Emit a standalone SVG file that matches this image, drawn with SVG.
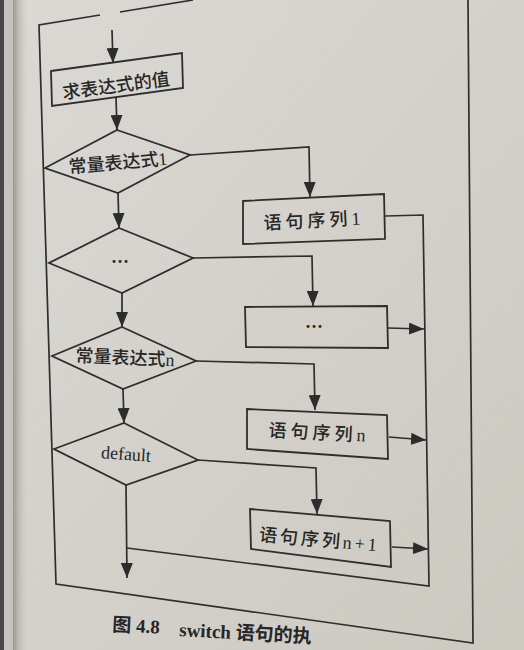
<svg xmlns="http://www.w3.org/2000/svg" width="524" height="650" viewBox="0 0 524 650">
<defs>
<linearGradient id="paper" x1="0" y1="0" x2="1" y2="1">
<stop offset="0" stop-color="#dbd9d4"/>
<stop offset="1" stop-color="#ccc9c1"/>
</linearGradient>
<linearGradient id="shadow" x1="0" y1="0" x2="1" y2="0">
<stop offset="0" stop-color="#9a9893"/>
<stop offset="1" stop-color="#d6d3cd" stop-opacity="0"/>
</linearGradient>
<marker id="ah" markerUnits="userSpaceOnUse" markerWidth="15" markerHeight="12" refX="15" refY="6" orient="auto">
<path d="M0,0 L15,6 L0,12 z" fill="#2c2c2c"/>
</marker>
<style>
.ln{fill:none;stroke:#2e2e2e;stroke-width:1.7;stroke-linejoin:miter}
.ar{fill:none;stroke:#2e2e2e;stroke-width:1.7;marker-end:url(#ah)}
.shp{fill:none;stroke:#2e2e2e;stroke-width:1.8}
.lbl{font-family:"Liberation Serif","Noto Sans CJK SC",serif;font-size:18px;font-weight:500;fill:#262626;text-anchor:middle}
.cap{font-family:"Liberation Serif","Noto Sans CJK SC",serif;font-size:19px;font-weight:bold;fill:#262626}
</style>
</defs>
<rect x="0" y="0" width="524" height="650" fill="url(#paper)"/>
<rect x="0" y="0" width="4" height="650" fill="#474747"/>
<rect x="4" y="0" width="10" height="650" fill="#c6c3bd"/>
<rect x="13" y="0" width="16" height="650" fill="url(#shadow)"/>

<g id="frame">
<polyline class="ln" points="100,15 39,25 56,584 473,643 468,0"/>
<line class="ln" x1="120" y1="12" x2="193" y2="0"/>
</g>

<g id="connectors">
<line class="ar" x1="112" y1="30" x2="113" y2="63"/>
<line class="ar" x1="116" y1="97" x2="117" y2="130"/>
<line class="ar" x1="118" y1="193" x2="119" y2="228"/>
<line class="ar" x1="122" y1="293" x2="122" y2="327"/>
<line class="ar" x1="123" y1="389" x2="124" y2="423"/>
<line class="ar" x1="126" y1="485" x2="127" y2="578"/>
<polyline class="ar" points="190,155 309,147 310,197"/>
<polyline class="ar" points="193,258 312,256 313,306"/>
<polyline class="ar" points="196,361 314,364 315,410"/>
<polyline class="ar" points="198,460 316,468 317,514"/>
<polyline class="ln" points="385,216 423,215 429,586 127,548"/>
<line class="ar" x1="388" y1="328" x2="424" y2="329"/>
<line class="ar" x1="389" y1="437" x2="426" y2="440"/>
<line class="ar" x1="392" y1="547" x2="428" y2="549"/>
</g>

<g id="eval">
<polygon class="shp" points="51,71 182,53 183,88 52,106"/>
<text class="lbl" x="116" y="92" transform="rotate(-7.5 116 86)">求表达式的值</text>
</g>
<g id="case1">
<polygon class="shp" points="117,130 190,155 118,193 45,168"/>
<text class="lbl" x="118" y="169" transform="rotate(-5 118 163)">常量表达式1</text>
</g>
<g id="caseDots">
<polygon class="shp" points="119,228 193,258 122,293 49,263"/>
<text class="lbl" x="120" y="268" style="font-weight:bold">···</text>
</g>
<g id="caseN">
<polygon class="shp" points="122,327 196,361 123,389 52,356"/>
<text class="lbl" x="125" y="364" transform="rotate(2.5 125 358)">常量表达式n</text>
</g>
<g id="default">
<polygon class="shp" points="124,423 198,460 126,485 54,449"/>
<text class="lbl" x="126" y="460" transform="rotate(4 126 455)">default</text>
</g>
<g id="stmt1">
<polygon class="shp" points="243,201 384,194 385,239 243,244"/>
<text class="lbl" x="312" y="227" textLength="97" lengthAdjust="spacing" transform="rotate(-3 312 221)">语句序列1</text>
</g>
<g id="stmtDots">
<polygon class="shp" points="245,307 387,306 388,348 246,347"/>
<text class="lbl" x="314" y="333" style="font-weight:bold">···</text>
</g>
<g id="stmtN">
<polygon class="shp" points="247,409 387,415 388,459 247,449"/>
<text class="lbl" x="317" y="439" textLength="97" lengthAdjust="spacing" transform="rotate(3 317 433)">语句序列n</text>
</g>
<g id="stmtN1">
<polygon class="shp" points="250,509 390,521 391,567 251,549"/>
<text class="lbl" x="318" y="546" textLength="118" lengthAdjust="spacing" transform="rotate(5 318 540)">语句序列n+1</text>
</g>

<g id="caption">
<text class="cap" x="112" y="631" transform="rotate(3 112 631)">图 4.8</text>
<text class="cap" x="179" y="636" transform="rotate(3 179 636)">switch 语句的执</text>
</g>
</svg>
